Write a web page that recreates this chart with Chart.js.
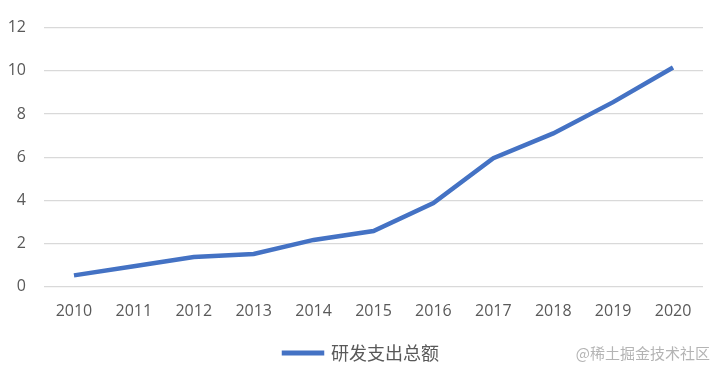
<!DOCTYPE html>
<html lang="zh">
<head>
  <meta charset="UTF-8">
  <title>研发支出总额</title>
  <style>
    html, body { margin: 0; padding: 0; background: #fff; }
    #wrap { position: relative; width: 720px; height: 372px; }
    #mark {
      position: absolute; right: 10px; bottom: 9px;
      font: 15px "Noto Sans CJK SC", sans-serif; color: #b4b4b4;
    }
  </style>
</head>
<body>
<div id="wrap">
  <canvas id="chart" width="720" height="372"></canvas>
  <div id="mark">@稀土掘金技术社区</div>
</div>

<script src="https://cdn.jsdelivr.net/npm/chart.js"></script>

<script>
  const years = ['2010', '2011', '2012', '2013', '2014', '2015', '2016', '2017', '2018', '2019', '2020'];
  const spending = [0.53, 0.95, 1.38, 1.52, 2.17, 2.58, 3.88, 5.95, 7.1, 8.55, 10.15];
  const seriesName = '研发支出总额';

  const tickFont = { family: '"Open Sans", "Noto Sans", sans-serif', size: 16 };

  // the legend is centred over the whole canvas in the original, nudge it right a bit
  const nudgeLegend = {
    id: 'nudgeLegend',
    afterLayout(chart) {
      chart.legend.left += 6;
      chart.legend.right += 6;
    }
  };

  new Chart(document.getElementById('chart'), {
    type: 'line',
    data: {
      labels: years,
      datasets: [{
        label: seriesName,
        data: spending,
        borderColor: '#4472C4',
        backgroundColor: '#4472C4',
        borderWidth: 4.5,
        pointRadius: 0,
        tension: 0,
        fill: false
      }]
    },
    options: {
      responsive: false,
      animation: false,
      layout: { padding: { top: 26, right: 17, left: 8, bottom: 0 } },
      scales: {
        x: {
          offset: true,
          grid: { display: false },
          border: { display: false },
          ticks: { color: '#595959', font: tickFont, padding: 7 }
        },
        y: {
          min: 0,
          max: 12,
          ticks: { stepSize: 2, color: '#595959', font: tickFont, padding: 18 },
          grid: { color: '#d9d9d9', lineWidth: 1.2, drawTicks: false },
          border: { display: false },
          afterFit(axis) {
            axis.width = 36;
          }
        }
      },
      plugins: {
        legend: {
          position: 'bottom',
          labels: {
            boxWidth: 38,
            boxHeight: 0.5,
            color: '#595959',
            padding: 16,
            font: { family: '"Noto Sans CJK SC", sans-serif', size: 18 }
          }
        },
        tooltip: { enabled: false }
      }
    },
    plugins: [nudgeLegend]
  });
</script>
</body>
</html>
